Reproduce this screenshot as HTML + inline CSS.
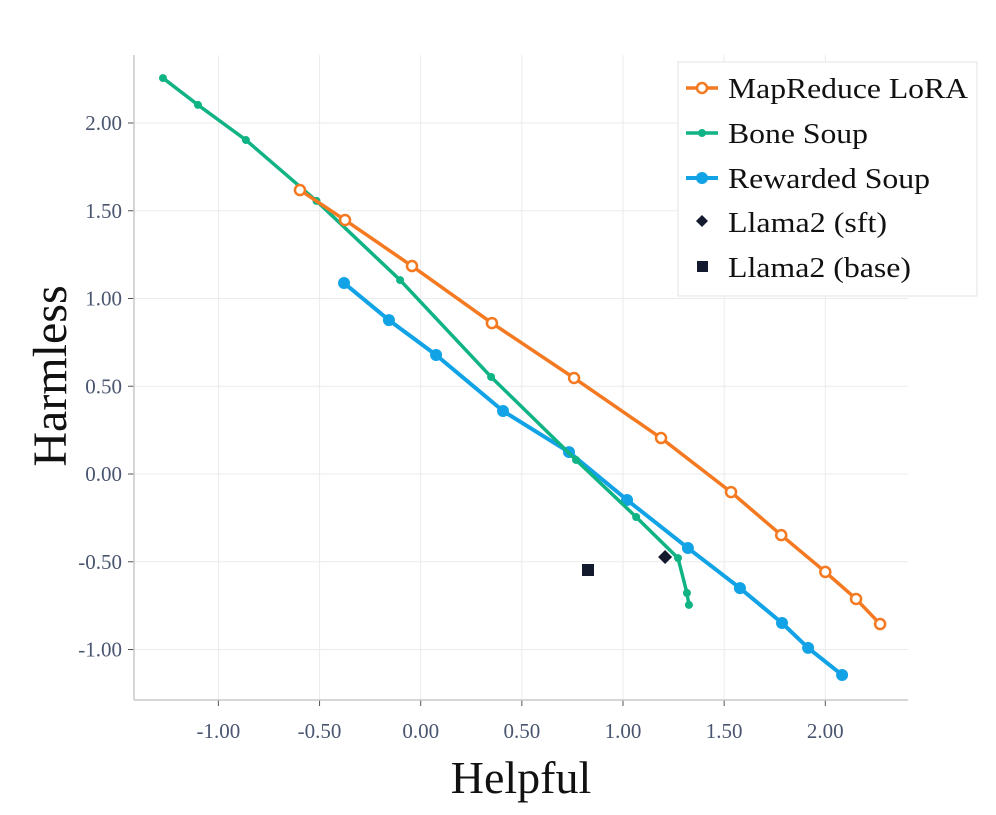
<!DOCTYPE html>
<html><head><meta charset="utf-8"><style>
body{margin:0;background:#fff;}
svg text{font-family:"Liberation Serif",serif;}
</style></head><body>
<svg id="chart" width="996" height="810" xmlns="http://www.w3.org/2000/svg">
<g id="grid"></g>
<g id="axes"></g>
<g id="series"></g>
<text x="0" y="0" transform="translate(66,376) rotate(-90)" text-anchor="middle" font-size="48" fill="#111">Harmless</text>
<text x="521" y="793" text-anchor="middle" font-size="46" fill="#111">Helpful</text>
<g>
<rect x="678" y="62" width="299" height="234" fill="#fff" stroke="#e3e3e3"/>
<g><line x1="686" y1="88" x2="718" y2="88" stroke="#f47920" stroke-width="3.5"/><circle cx="702" cy="88" r="5" fill="#fff" stroke="#f47920" stroke-width="2.5"/><text x="728" y="98" font-size="28" textLength="240" lengthAdjust="spacingAndGlyphs" fill="#111">MapReduce LoRA</text></g>
<g><line x1="686" y1="133" x2="718" y2="133" stroke="#10b384" stroke-width="3.5"/><circle cx="702" cy="133" r="4" fill="#10b384"/><text x="728" y="143" font-size="28" textLength="140" lengthAdjust="spacingAndGlyphs" fill="#111">Bone Soup</text></g>
<g><line x1="686" y1="178" x2="718" y2="178" stroke="#12a3e6" stroke-width="4"/><circle cx="702" cy="178" r="6" fill="#12a3e6"/><text x="728" y="188" font-size="28" textLength="202" lengthAdjust="spacingAndGlyphs" fill="#111">Rewarded Soup</text></g>
<g><path d="M702,215 L708,221 L702,227 L696,221Z" fill="#141a2e"/><text x="728" y="232" font-size="28" textLength="159" lengthAdjust="spacingAndGlyphs" fill="#111">Llama2 (sft)</text></g>
<g><rect x="697" y="261" width="11" height="11" fill="#141a2e"/><text x="728" y="277" font-size="28" textLength="183" lengthAdjust="spacingAndGlyphs" fill="#111">Llama2 (base)</text></g>
</g>
</svg>
<script>
const xTicks=[-1,-0.5,0,0.5,1,1.5,2];
const yTicks=[-1,-0.5,0,0.5,1,1.5,2];
const mapX=[-0.597,-0.374,-0.043,0.352,0.758,1.188,1.534,1.782,2.000,2.152,2.271];
const mapY=[1.618,1.447,1.185,0.860,0.547,0.205,-0.103,-0.348,-0.558,-0.712,-0.855];
const boneX=[-1.274,-1.101,-0.864,-0.515,-0.102,0.348,0.768,1.065,1.272,1.316,1.326];
const boneY=[2.256,2.103,1.903,1.556,1.105,0.553,0.080,-0.245,-0.479,-0.678,-0.746];
const rewX=[-0.379,-0.157,0.076,0.407,0.733,1.020,1.321,1.578,1.786,1.915,2.083];
const rewY=[1.088,0.877,0.678,0.359,0.125,-0.148,-0.422,-0.650,-0.849,-0.991,-1.145];
const sftPt=[1.208,-0.473];
const basePt=[0.827,-0.547];
const L=134,R=908,T=55,B=700;
const sx=v=>420.7+v*202.3, sy=v=>474-v*175.5;
const NS="http://www.w3.org/2000/svg";
function mk(parent,tag,attrs){const e=document.createElementNS(NS,tag);for(const k in attrs)e.setAttribute(k,attrs[k]);parent.appendChild(e);return e;}
const grid=document.getElementById('grid'),axes=document.getElementById('axes'),ser=document.getElementById('series');
xTicks.forEach(t=>{const x=sx(t);
 const g=mk(grid,'line',{x1:x,x2:x,y1:T,y2:B,stroke:'#ebebeb','stroke-width':1});
 
 
 mk(axes,'line',{x1:x,x2:x,y1:B,y2:B+6,stroke:'#555'});
 const tx=mk(axes,'text',{x:x,y:B+38,'text-anchor':'middle','font-size':21,fill:'#4a5570'});
 tx.textContent=t.toFixed(2);
 
 
});
yTicks.forEach(t=>{const y=sy(t);
 const g=mk(grid,'line',{x1:L,x2:R,y1:y,y2:y,stroke:'#ebebeb','stroke-width':1});
 
 
 mk(axes,'line',{x1:L-6,x2:L,y1:y,y2:y,stroke:'#555'});
 const tx=mk(axes,'text',{x:L-12,y:y+7,'text-anchor':'end','font-size':21,fill:'#4a5570'});
 tx.textContent=t.toFixed(2);
 
 
});
mk(axes,'line',{x1:L,x2:L,y1:T,y2:B,stroke:'#c8c8cc','stroke-width':1.5});
mk(axes,'line',{x1:L,x2:R,y1:B,y2:B,stroke:'#c8c8cc','stroke-width':1.5});
function series(xs,ys,color,w,r,hollow,name){
 const p=mk(ser,'polyline',{points:xs.map((x,i)=>sx(x)+','+sy(ys[i])).join(' '),fill:'none',stroke:color,'stroke-width':w,'stroke-linejoin':'round'});
 
 
 xs.forEach((x,i)=>{const c=mk(ser,'circle',{cx:sx(x),cy:sy(ys[i]),r:r,fill:hollow?'#fff':color,stroke:hollow?color:'none','stroke-width':2.5});
  
  });
}
series(rewX,rewY,'#12a3e6',4,6,false,'rewarded-soup');
series(boneX,boneY,'#10b384',3.5,4,false,'bone-soup');
series(mapX,mapY,'#f47920',3.5,5,true,'mapreduce-lora');
const d=mk(ser,'path',{d:`M${sx(sftPt[0])},${sy(sftPt[1])-7} l7,7 l-7,7 l-7,-7Z`,fill:'#141a2e'});


const s=mk(ser,'rect',{x:sx(basePt[0])-6,y:sy(basePt[1])-6,width:12,height:12,fill:'#141a2e'});


</script>
</body></html>
